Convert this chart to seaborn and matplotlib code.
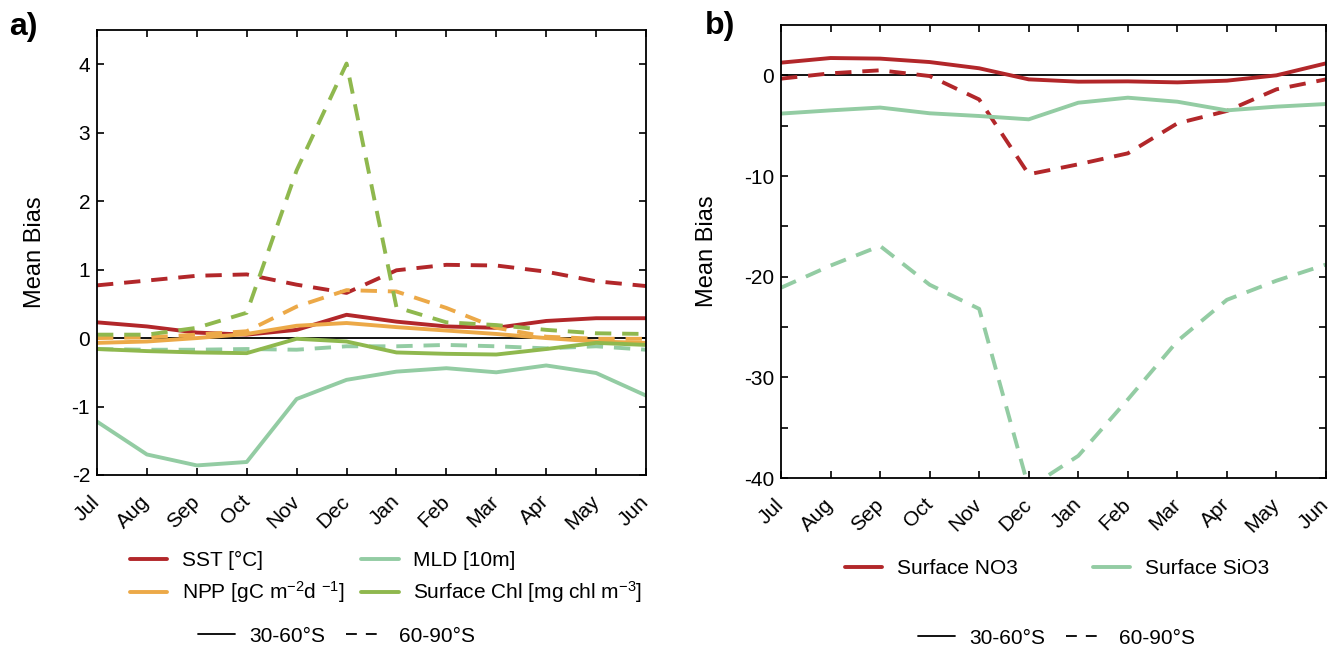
import matplotlib
matplotlib.use("Agg")
import matplotlib.pyplot as plt
from matplotlib.lines import Line2D
import numpy as np
import pandas as pd
import seaborn as sns

months = ["Jul", "Aug", "Sep", "Oct", "Nov", "Dec", "Jan", "Feb", "Mar", "Apr", "May", "Jun"]

# panel a: 30-60S (solid) and 60-90S (dashed)
sst_30_60 = [0.23, 0.17, 0.08, 0.05, 0.12, 0.34, 0.24, 0.17, 0.15, 0.25, 0.29, 0.29]
sst_60_90 = [0.77, 0.84, 0.91, 0.93, 0.78, 0.66, 0.99, 1.07, 1.06, 0.97, 0.83, 0.76]
npp_30_60 = [-0.07, -0.05, 0.0, 0.06, 0.18, 0.22, 0.16, 0.11, 0.06, 0.0, -0.05, -0.07]
npp_60_90 = [0.0, 0.01, 0.05, 0.10, 0.46, 0.70, 0.68, 0.44, 0.15, 0.02, -0.01, -0.01]
mld_30_60 = [-1.22, -1.70, -1.86, -1.81, -0.89, -0.61, -0.49, -0.44, -0.50, -0.40, -0.51, -0.84]
mld_60_90 = [-0.16, -0.17, -0.17, -0.16, -0.17, -0.12, -0.12, -0.10, -0.12, -0.15, -0.12, -0.17]
chl_30_60 = [-0.16, -0.19, -0.21, -0.22, -0.01, -0.05, -0.21, -0.23, -0.24, -0.16, -0.07, -0.10]
chl_60_90 = [0.05, 0.05, 0.15, 0.37, 2.45, 4.01, 0.45, 0.23, 0.19, 0.12, 0.07, 0.06]

# panel b
no3_30_60 = [1.26, 1.72, 1.66, 1.32, 0.70, -0.40, -0.63, -0.60, -0.70, -0.53, 0.0, 1.19]
no3_60_90 = [-0.33, 0.20, 0.50, -0.07, -2.40, -9.83, -8.84, -7.75, -4.77, -3.54, -1.39, -0.40]
sio3_30_60 = [-3.80, -3.48, -3.20, -3.77, -4.04, -4.37, -2.72, -2.22, -2.62, -3.48, -3.11, -2.85]
sio3_60_90 = [-21.1, -18.9, -16.95, -20.8, -23.2, -41.0, -37.8, -32.2, -26.4, -22.3, -20.4, -18.8]

labels_a = ["SST [°C]", "NPP [gC m$^{\\mathregular{-2}}$d $^{\\mathregular{-1}}$]",
            "MLD [10m]", "Surface Chl [mg chl m$^{\\mathregular{-3}}$]"]
labels_b = ["Surface NO3", "Surface SiO3"]
regions = ["30-60°S", "60-90°S"]

colors_a = ["#b2272a", "#eca948", "#93cca3", "#8fb84e"]
colors_b = ["#b2272a", "#93cca3"]

sns.set_theme(style="ticks")
plt.rcParams["font.family"] = ["Liberation Sans", "DejaVu Sans"]
plt.rcParams["mathtext.fontset"] = "custom"
plt.rcParams["mathtext.rm"] = "Liberation Sans"
plt.rcParams["mathtext.it"] = "Liberation Sans"
for key in ["text.color", "axes.labelcolor", "xtick.color", "ytick.color", "axes.edgecolor"]:
    plt.rcParams[key] = "black"


def long_frame(names, solid, dashed):
    rows = []
    for name, s, d in zip(names, solid, dashed):
        for i in range(len(months)):
            rows.append({"month": i, "value": s[i], "var": name, "region": regions[0]})
            rows.append({"month": i, "value": d[i], "var": name, "region": regions[1]})
    return pd.DataFrame(rows)


df_a = long_frame(labels_a, [sst_30_60, npp_30_60, mld_30_60, chl_30_60],
                  [sst_60_90, npp_60_90, mld_60_90, chl_60_90])
df_b = long_frame(labels_b, [no3_30_60, sio3_30_60], [no3_60_90, sio3_60_90])

dash_map = {regions[0]: "", regions[1]: (4.2, 2.8)}

fig = plt.figure(figsize=(13.43, 6.5), dpi=100)
ax_a = fig.add_axes([97 / 1343, 1 - 475 / 650, 549 / 1343, 445 / 650])
ax_b = fig.add_axes([781 / 1343, 1 - 478 / 650, 545 / 1343, 453 / 650])

for ax, df, names, cols in [(ax_a, df_a, labels_a, colors_a), (ax_b, df_b, labels_b, colors_b)]:
    ax.axhline(0, color="black", lw=1.3, zorder=1)
    sns.lineplot(data=df, x="month", y="value", hue="var", style="region",
                 hue_order=names, palette=cols, dashes=dash_map, lw=2.8,
                 sort=False, legend=False, ax=ax)
    ax.set_xlim(0, 11)
    ax.set_xticks(np.arange(len(months)))
    ax.set_xticklabels(months, rotation=45, ha="right", va="center",
                       rotation_mode="anchor", fontsize=15)
    ax.tick_params(direction="in", length=5, width=1.2, top=True, right=True,
                   labelsize=15, colors="black")
    ax.tick_params(axis="x", pad=17)
    ax.tick_params(axis="y", pad=5)
    ax.set_xlabel("")
    ax.set_ylabel("Mean Bias", fontsize=17)
    for sp in ax.spines.values():
        sp.set_linewidth(1.3)
        sp.set_color("black")

ax_a.set_ylim(-2, 4.5)
ax_a.set_yticks(np.arange(-2, 5, 1))
ax_a.set_yticklabels([str(v) for v in range(-2, 5)])
ax_a.yaxis.set_label_coords(-0.092, 0.5)

ax_b.set_ylim(-40, 5)
yt = np.arange(-40, 5, 5)
ax_b.set_yticks(yt)
ax_b.set_yticklabels([str(v) if v % 10 == 0 else "" for v in yt])
ax_b.yaxis.set_label_coords(-0.115, 0.5)

fig.text(9 / 1343, 1 - 12 / 650, "a)", fontsize=23, fontweight="bold", va="top")
fig.text(705 / 1343, 1 - 11 / 650, "b)", fontsize=23, fontweight="bold", va="top")

# legends
leg_kw = dict(frameon=False, fontsize=15, handlelength=1.8, handletextpad=0.7,
              borderaxespad=0, bbox_transform=fig.transFigure, loc="center")

h_a = [Line2D([], [], color=c, lw=2.8) for c in colors_a]
leg1 = ax_a.legend(h_a, labels_a, ncol=2, columnspacing=0.8, labelspacing=0.45,
                   bbox_to_anchor=(386 / 1343, 1 - 578 / 650), **leg_kw)
ax_a.add_artist(leg1)
h_reg = [Line2D([], [], color="black", lw=1.3),
         Line2D([], [], color="black", lw=1.3, dashes=(6, 5))]
ax_a.legend(h_reg, regions, ncol=2, columnspacing=1.0,
            bbox_to_anchor=(336 / 1343, 1 - 636 / 650), **leg_kw)

h_b = [Line2D([], [], color=c, lw=2.8) for c in colors_b]
leg2 = ax_b.legend(h_b, labels_b, ncol=2, columnspacing=3.6,
                   bbox_to_anchor=(1057 / 1343, 1 - 569 / 650), **leg_kw)
ax_b.add_artist(leg2)
ax_b.legend(h_reg, regions, ncol=2, columnspacing=1.0,
            bbox_to_anchor=(1056 / 1343, 1 - 638 / 650), **leg_kw)

fig.savefig("out.png", dpi=100)
